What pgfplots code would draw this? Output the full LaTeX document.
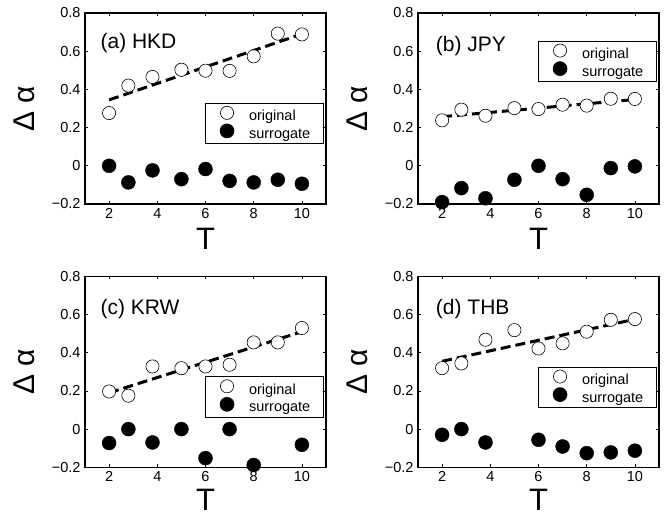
\documentclass[border=0pt]{standalone}
\usepackage{fontspec}
\setmainfont{Liberation Sans}
\usepackage{pgfplots}
\pgfplotsset{compat=1.18}
\tikzset{plabel/.style={anchor=base west, font=\fontsize{21}{24}\selectfont}}
\pgfplotsset{
 panel/.style={
  scale only axis, width=241pt, height=191pt,
  xmin=1, xmax=11, ymin=-0.2, ymax=0.8,
  xtick={2,4,6,8,10}, xticklabels={2,4,6,8,10},
  ytick={-0.2,0,0.2,0.4,0.6,0.8}, yticklabels={−0.2,0,0.2,0.4,0.6,0.8},
  tick label style={font=\fontsize{14.5}{16}\selectfont},
  xticklabel style={yshift=-1pt},
  yticklabel style={xshift=-1pt},
  tick align=inside, major tick length=3pt,
  axis line style={line width=1.1pt},
  every tick/.style={black, line width=0.6pt},
  xlabel={T}, ylabel={Δ α},
  xlabel style={font=\fontsize{31}{34}\selectfont, at={(axis description cs:0.5,-0.185)}, anchor=center},
  ylabel style={font=\fontsize{30}{34}\selectfont, at={(axis description cs:-0.25,0.5)}, anchor=center},
  legend style={draw=black, line width=0.6pt, font=\fontsize{14.5}{16}\selectfont, anchor=north east,
    inner xsep=13pt, inner ysep=3pt, nodes={inner sep=0pt, text depth=0.2em}, row sep=1pt, column sep=0pt},
  legend cell align=left,
  legend image code/.code={\path[draw=none,fill=none] (0pt,-3pt) rectangle (31pt,3pt); \draw[##1] plot coordinates {(9pt,3.8pt)};},
 },
 lowrow/.style={xlabel style={at={(axis description cs:0.5,-0.168)}}},
 orig/.style={only marks, mark=*, mark size=6.6pt, mark options={fill=white, draw=black, line width=0.6pt}},
 surr/.style={only marks, mark=*, mark size=7pt, mark options={fill=black, draw=black}},
 fit/.style={black, line width=3pt, dash pattern=on 10pt off 5pt, forget plot},
}
\begin{document}
\begin{tikzpicture}
\useasboundingbox (0,0) rectangle (672pt,518pt);
% (a)
\begin{axis}[panel, at={(85pt,314pt)}, anchor=south west,
  legend style={at={(axis description cs:0.99,0.529)}}]
\addplot[orig] coordinates {(2,0.276) (2.8,0.42) (3.8,0.465) (5,0.503) (6,0.498) (7,0.497) (8,0.573) (9,0.692) (10,0.688)};
\addplot[surr] coordinates {(2,0.0) (2.8,-0.087) (3.8,-0.024) (5,-0.07) (6,-0.017) (7,-0.079) (8,-0.087) (9,-0.073) (10,-0.094)};
\addplot[fit] coordinates {(2,0.345) (10,0.69)};
\node[plabel] at (axis description cs:0.05,0.815) {(a) HKD};
\legend{original,surrogate}
\end{axis}
% (b)
\begin{axis}[panel, at={(418pt,314pt)}, anchor=south west,
  legend style={at={(axis description cs:0.99,0.855)}}]
\addplot[orig] coordinates {(2,0.238) (2.8,0.294) (3.8,0.262) (5,0.302) (6,0.297) (7,0.32) (8,0.315) (9,0.351) (10,0.35)};
\addplot[surr] coordinates {(2,-0.19) (2.8,-0.117) (3.8,-0.17) (5,-0.073) (6,0.0) (7,-0.07) (8,-0.152) (9,-0.012) (10,-0.003)};
\addplot[fit] coordinates {(2,0.257) (10,0.347)};
\node[plabel] at (axis description cs:0.06,0.8) {(b) JPY};
\legend{original,surrogate}
\end{axis}
% (c)
\begin{axis}[panel, lowrow, at={(85pt,50.7pt)}, anchor=south west,
  legend style={at={(axis description cs:0.99,0.476)}}]
\addplot[orig] coordinates {(2,0.197) (2.8,0.175) (3.8,0.328) (5,0.319) (6,0.328) (7,0.337) (8,0.454) (9,0.454) (10,0.529)};
\addplot[surr] coordinates {(2,-0.073) (2.8,0.0) (3.8,-0.07) (5,0.0) (6,-0.152) (7,0.0) (8,-0.188) (10,-0.082)};
\addplot[fit] coordinates {(2,0.19) (10,0.51)};
\node[plabel] at (axis description cs:0.05,0.8) {(c) KRW};
\legend{original,surrogate}
\end{axis}
% (d)
\begin{axis}[panel, lowrow, at={(418pt,50.7pt)}, anchor=south west,
  legend style={at={(axis description cs:0.99,0.527)}}]
\addplot[orig] coordinates {(2,0.319) (2.8,0.344) (3.8,0.468) (5,0.518) (6,0.422) (7,0.449) (8,0.51) (9,0.572) (10,0.576)};
\addplot[surr] coordinates {(2,-0.03) (2.8,0.0) (3.8,-0.07) (6,-0.056) (7,-0.091) (8,-0.126) (9,-0.122) (10,-0.113)};
\addplot[fit] coordinates {(2,0.355) (10,0.575)};
\node[plabel] at (axis description cs:0.06,0.8) {(d) THB};
\legend{original,surrogate}
\end{axis}
\end{tikzpicture}
\end{document}
